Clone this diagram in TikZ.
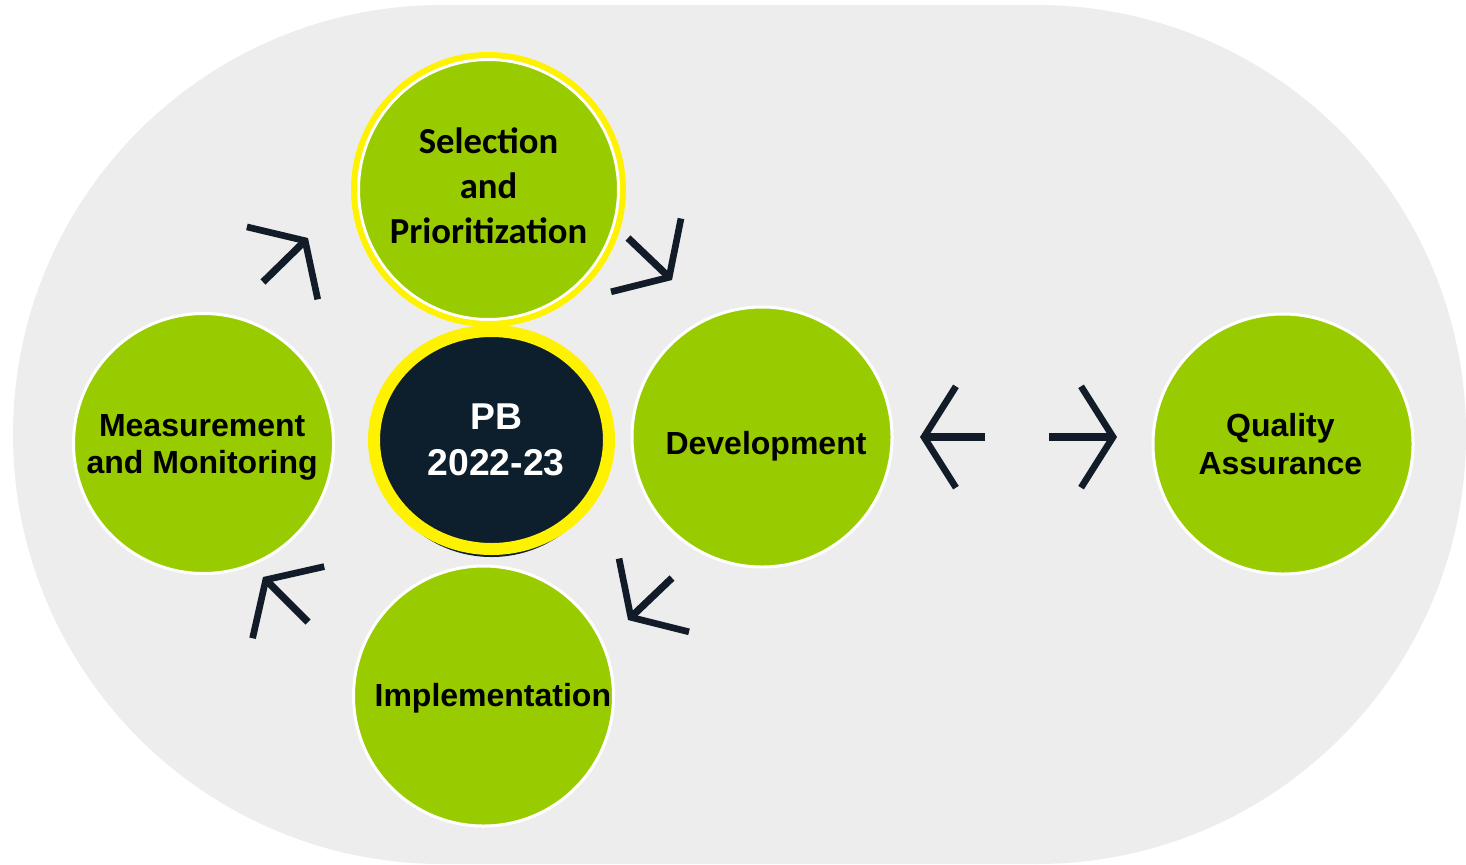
\documentclass[tikz,border=0pt]{standalone}
\usepackage{fontspec}
\setmainfont{Liberation Sans}
\newfontfamily\carlito{Carlito}
\usetikzlibrary{shapes.geometric,arrows.meta}
\definecolor{bggrey}{RGB}{237,237,237}
\definecolor{leafgreen}{RGB}{153,204,0}
\definecolor{navy}{RGB}{13,30,45}
\definecolor{arrowink}{RGB}{17,28,40}

\begin{document}
\begin{tikzpicture}[x=0.75pt,y=0.75pt,yscale=-1,xscale=1,
  phase/.style={circle, fill=leafgreen, draw=white, line width=2.25pt, minimum size=195pt, inner sep=0pt},
  phasetext/.style={align=center, text=black, inner sep=0pt, font=\bfseries\fontsize{24}{28}\selectfont},
  ring/.style={draw=yellow, line width=4.5pt},
  flow/.style={draw=arrowink, line width=5.4pt, -{Straight Barb[length=24pt, width=76pt, line width=5pt]}}
]
\path[use as bounding box, fill=white] (0,0) rectangle (1466,864);

%Shape: Stadium [background]
\fill[bggrey] (442.5,5) -- (1036.5,5) arc[start angle=-90, end angle=90, radius=429.5] -- (442.5,864) arc[start angle=90, end angle=270, radius=429.5] -- cycle;

%Shape: Ellipse [shadow of centre]
\fill[navy] (491.5,443) ellipse [x radius=117, y radius=114];

% Circle Nodes
\node[phase, label={[phasetext, yshift=3pt, font=\carlito\bfseries\fontsize{27.5}{33.75}\selectfont]center:{Selection\\and\\Prioritization}}] (sel) at (488.5,189.5) {};
\draw[ring] (sel.center) circle (134.5);
\node[ellipse, fill=navy, draw=yellow, line width=9pt, minimum width=176.25pt, minimum height=163.5pt, inner sep=0pt, align=center, text=white, font=\bfseries\fontsize{28}{34.5}\selectfont] (pb) at (491.5,440) {\hspace*{7pt}PB\\\hspace*{7pt}2022-23};
\node[phase, label={[phasetext, xshift=3pt, yshift=-7pt]center:Development}] (dev) at (762,437) {};
\node[phase, label={[phasetext, xshift=-2pt]center:{Quality\\Assurance}}] (qa) at (1283,444) {};
\node[phase, label={[phasetext, xshift=-1pt, yshift=-3pt]center:{Measurement\\and Monitoring}}] (meas) at (203.5,443.5) {};
\node[phase, label={[phasetext, xshift=7pt, yshift=-2pt]center:Implementation}] (impl) at (483.5,696) {};

% Arrow Ends
\coordinate (a1s) at (263,282);  \coordinate (a1e) at (308,238);
\coordinate (a2s) at (628,238);  \coordinate (a2e) at (672,280);
\coordinate (a3s) at (672,578);  \coordinate (a3e) at (628,620);
\coordinate (a4s) at (308,622);  \coordinate (a4e) at (263,577);
\coordinate (a5s) at (985,437);  \coordinate (a5e) at (920,437);
\coordinate (a6s) at (1049,437); \coordinate (a6e) at (1117,437);

% Arrows
\draw[flow] (a1s) -- (a1e);
\draw[flow] (a2s) -- (a2e);
\draw[flow] (a3s) -- (a3e);
\draw[flow] (a4s) -- (a4e);
\draw[flow] (a5s) -- (a5e);
\draw[flow] (a6s) -- (a6e);

\end{tikzpicture}
\end{document}
